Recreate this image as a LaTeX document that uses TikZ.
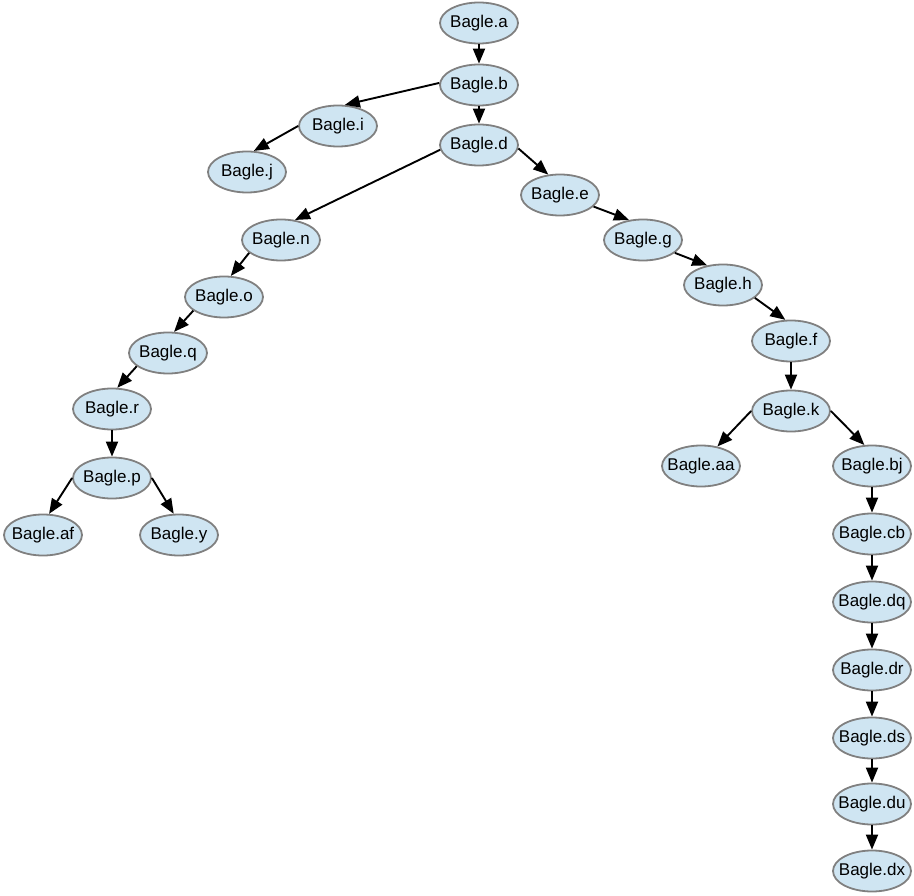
\documentclass[tikz,border=0pt]{standalone}
\usepackage{fontspec}
\setmainfont{Liberation Sans}
\usetikzlibrary{arrows.meta, shapes.geometric}
\definecolor{bagfill}{RGB}{207,229,242}
\definecolor{bagline}{RGB}{128,128,128}
\newcommand{\bagle}[1]{\makebox[0pt]{Bagle.#1}}

\begin{document}
\begin{tikzpicture}[x=1pt, y=-1pt,
  bag/.style={ellipse, draw=bagline, fill=bagfill, line width=1.8pt, minimum width=78pt, minimum height=41pt, inner sep=0pt, font=\fontsize{17}{20}\selectfont},
  link/.style={-{Triangle[length=15pt,width=12pt]}, line width=1.9pt}]
  \useasboundingbox (0,0) rectangle (914,896);
  % trunk
  \node[bag] (a) at (479,23) {\bagle{a}};
  \node[bag] (b) at (479,85) {\bagle{b}};
  \node[bag] (d) at (479,145) {\bagle{d}};
  \node[bag] (i) at (338,126) {\bagle{i}};
  \node[bag] (j) at (247,172) {\bagle{j}};
  % left branch
  \node[bag] (n) at (281,240) {\bagle{n}};
  \node[bag] (o) at (224,297) {\bagle{o}};
  \node[bag] (q) at (168,353) {\bagle{q}};
  \node[bag] (r) at (112,409) {\bagle{r}};
  \node[bag] (p) at (112,478) {\bagle{p}};
  \node[bag] (af) at (43,535) {\bagle{af}};
  \node[bag] (y) at (179,535) {\bagle{y}};
  % right branch
  \node[bag] (e) at (560,195) {\bagle{e}};
  \node[bag] (g) at (643,240) {\bagle{g}};
  \node[bag] (h) at (723,285) {\bagle{h}};
  \node[bag] (f) at (791,341) {\bagle{f}};
  \node[bag] (k) at (791,411) {\bagle{k}};
  \node[bag] (aa) at (701,466) {\bagle{aa}};
  \node[bag] (bj) at (872,466) {\bagle{bj}};
  \node[bag] (cb) at (872,534) {\bagle{cb}};
  \node[bag] (dq) at (872,602) {\bagle{dq}};
  \node[bag] (dr) at (872,670) {\bagle{dr}};
  \node[bag] (ds) at (872,738) {\bagle{ds}};
  \node[bag] (du) at (872,804) {\bagle{du}};
  \node[bag] (dx) at (872,871) {\bagle{dx}};
  % edges
  \draw[link] (a) -- (b);
  \draw[link] (b.177) -- (i.72);
  \draw[link] (i.180) -- (j.72);
  \draw[link] (b) -- (d);
  \draw[link] (d.-173) -- (n.55);
  \draw[link] (d.-5) -- (e.120);
  \draw[link] (n.-158) -- (o.72);
  \draw[link] (o.-156) -- (q.74);
  \draw[link] (q.-157) -- (r.76);
  \draw[link] (r) -- (p);
  \draw[link] (p.180) -- (af.74);
  \draw[link] (p.0) -- (y.104);
  \draw[link] (e.-19) -- (g.125);
  \draw[link] (g.-22) -- (h.129);
  \draw[link] (h.-22) -- (f.105);
  \draw[link] (f) -- (k);
  \draw[link] (k.180) -- (aa.50);
  \draw[link] (k.0) -- (bj.110);
  \draw[link] (bj) -- (cb);
  \draw[link] (cb) -- (dq);
  \draw[link] (dq) -- (dr);
  \draw[link] (dr) -- (ds);
  \draw[link] (ds) -- (du);
  \draw[link] (du) -- (dx);
\end{tikzpicture}
\end{document}
